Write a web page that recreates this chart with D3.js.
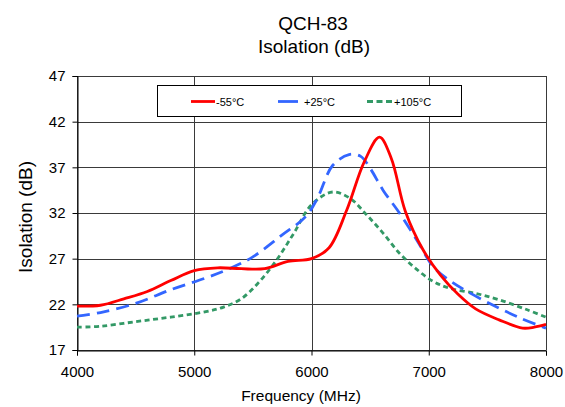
<!DOCTYPE html>
<html>
<head>
<meta charset="utf-8">
<script src="https://cdn.jsdelivr.net/npm/d3@7"></script>
<style>
  body { margin: 0; background: #fff; }
  text { font-family: Arial, "Liberation Sans", sans-serif; fill: #000; }
</style>
</head>
<body>
<script>
// data
let xTicks = [4000, 5000, 6000, 7000, 8000];
let yTicks = [17, 22, 27, 32, 37, 42, 47];

let redFreq = [4000, 4200, 4400, 4600, 4800, 5000, 5200, 5400, 5600, 5800, 6000, 6150, 6300, 6450, 6580, 6680, 6800, 6950, 7100, 7250, 7400, 7600, 7800, 7900, 8000];
let redVals = [21.8, 21.9, 22.6, 23.4, 24.6, 25.7, 26.0, 25.9, 25.9, 26.7, 27.0, 28.2, 32.3, 37.6, 40.3, 38.0, 32.2, 28.0, 25.2, 23.1, 21.5, 20.3, 19.4, 19.5, 19.8];

let blueFreq = [4000, 4200, 4500, 4800, 5100, 5300, 5500, 5750, 5950, 6050, 6180, 6320, 6420, 6500, 6610, 6750, 6900, 7040, 7180, 7330, 7550, 7780, 8000];
let blueVals = [20.7, 21.1, 22.1, 23.6, 24.9, 25.9, 27.2, 29.6, 31.6, 33.6, 37.2, 38.4, 38.2, 36.9, 34.5, 32.0, 29.0, 26.1, 24.6, 23.4, 21.9, 20.5, 19.4];

let greenFreq = [4000, 4200, 4500, 4800, 5100, 5250, 5400, 5550, 5700, 5850, 6000, 6180, 6330, 6470, 6610, 6750, 6900, 7040, 7180, 7400, 7600, 7840, 8000];
let greenVals = [19.5, 19.6, 20.1, 20.6, 21.2, 21.7, 22.6, 24.4, 26.8, 29.8, 32.9, 34.3, 33.6, 31.8, 29.8, 27.6, 25.8, 24.5, 23.75, 23.2, 22.5, 21.4, 20.6];

let seriesNames = ["-55°C", "+25°C", "+105°C"];

let W = 565, H = 407;
let mLeft = 77, mRight = 546, mTop = 76, mBottom = 350;

let svg = d3.select("body").append("svg")
    .attr("width", W)
    .attr("height", H);

let x = d3.scaleLinear().domain([4000, 8000]).range([mLeft, mRight]);
let y = d3.scaleLinear().domain([17, 47]).range([mBottom, mTop]);

// grid
svg.append("g").selectAll("line").data(yTicks).enter().append("line")
    .attr("x1", mLeft).attr("x2", mRight)
    .attr("y1", d => Math.round(y(d)) + 0.5).attr("y2", d => Math.round(y(d)) + 0.5)
    .attr("stroke", "#3a3a3a").attr("stroke-width", 1);
svg.append("g").selectAll("line").data(xTicks).enter().append("line")
    .attr("x1", d => Math.round(x(d)) + 0.5).attr("x2", d => Math.round(x(d)) + 0.5)
    .attr("y1", mTop).attr("y2", mBottom)
    .attr("stroke", "#3a3a3a").attr("stroke-width", 1);

// axes
let xAxis = svg.append("g")
    .attr("transform", "translate(0," + (Math.round(mBottom) + 0.5) + ")")
    .call(d3.axisBottom(x).tickValues(xTicks).tickSize(5).tickPadding(8).tickFormat(d3.format("d")));
let yAxis = svg.append("g")
    .attr("transform", "translate(" + (Math.round(mLeft) + 0.5) + ",0)")
    .call(d3.axisLeft(y).tickValues(yTicks).tickSize(5).tickPadding(7));
[xAxis, yAxis].forEach(a => {
    a.select(".domain").attr("stroke", "#000");
    a.selectAll(".tick line").attr("stroke", "#000");
    a.selectAll(".tick text").style("font-size", "15px").attr("font-family", null);
});
xAxis.selectAll(".tick text").attr("dy", "0.9em");

// lines
let line = d3.line().x(d => x(d[0])).y(d => y(d[1])).curve(d3.curveCatmullRom.alpha(0.5));
let series = [
    { freq: redFreq, vals: redVals, color: "#ff0000", dash: null },
    { freq: blueFreq, vals: blueVals, color: "#3366ff", dash: "13,7" },
    { freq: greenFreq, vals: greenVals, color: "#339966", dash: "5,3.5" }
];
let plot = svg.append("g");
series.slice().reverse().forEach(s => {
    plot.append("path")
        .datum(d3.zip(s.freq, s.vals))
        .attr("d", line)
        .attr("fill", "none")
        .attr("stroke", s.color)
        .attr("stroke-width", 2.8)
        .attr("stroke-dasharray", s.dash);
});

// legend
let lg = svg.append("g");
lg.append("rect")
    .attr("x", 157.5).attr("y", 85.5).attr("width", 304).attr("height", 31)
    .attr("fill", "#fff").attr("stroke", "#000");
let legX = [191, 278, 367];
let legLen = [24, 20, 26];
series.forEach((s, i) => {
    lg.append("line")
        .attr("x1", legX[i]).attr("x2", legX[i] + legLen[i])
        .attr("y1", 101.5).attr("y2", 101.5)
        .attr("stroke", s.color).attr("stroke-width", 2.8)
        .attr("stroke-dasharray", i == 2 ? "6,3.5" : null);
    lg.append("text")
        .attr("x", legX[i] + legLen[i] + (i == 1 ? 6 : 1))
        .attr("y", 105.5)
        .style("font-size", "11px")
        .text(seriesNames[i]);
});

// titles
svg.append("text").attr("x", 313).attr("y", 30).attr("text-anchor", "middle")
    .style("font-size", "19px").text("QCH-83");
svg.append("text").attr("x", 314).attr("y", 53).attr("text-anchor", "middle")
    .style("font-size", "19px").text("Isolation (dB)");
svg.append("text").attr("x", 301).attr("y", 401).attr("text-anchor", "middle")
    .style("font-size", "15.5px").text("Frequency (MHz)");
svg.append("text")
    .attr("transform", "translate(32,217) rotate(-90)")
    .attr("text-anchor", "middle")
    .style("font-size", "19px").text("Isolation (dB)");
</script>
</body>
</html>
